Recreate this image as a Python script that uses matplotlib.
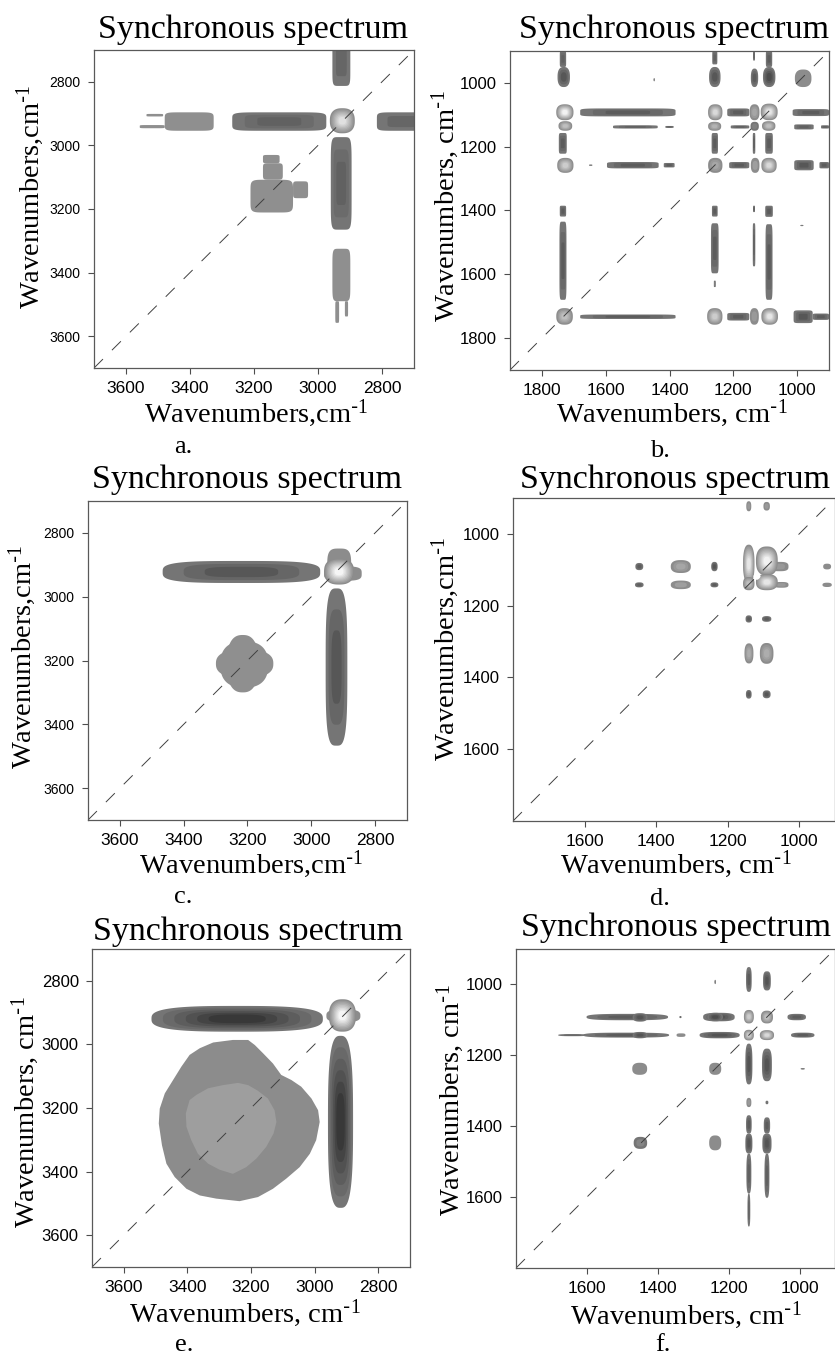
import numpy as np
import matplotlib
matplotlib.use('Agg')
import matplotlib.pyplot as plt

plt.rcParams['font.family'] = 'Liberation Serif'
plt.rcParams['mathtext.default'] = 'regular'

# every contour patch: x_lo, x_hi, y_lo, y_hi (cm-1), peak grey level 0-1
BARS_A = [(2899, 2955, 2660, 2813, .40), (2974, 3268, 2896, 2954, .38), (3326, 3479, 2896, 2954, .56),
          (2650, 2816, 2896, 2954, .40), (2895, 2960, 2974, 3265, .38), (2899, 2955, 3325, 3490, .56),
          (3484, 3536, 2901, 2909, .56), (3479, 3557, 2936, 2946, .56), (2934, 2946, 3490, 3558, .56),
          (2906, 2916, 3490, 3538, .56), (3078, 3211, 3108, 3211, .56), (3110, 3172, 3056, 3108, .56),
          (3031, 3078, 3113, 3166, .56), (3120, 3172, 3030, 3056, .56)]
SPOTS_A = [(2885, 2963, 2883, 2962, .88)]

BARS_B = [(1724, 1744, 900, 950, .38), (1250, 1266, 900, 942, .38), (1132, 1138, 900, 930, .38), (1078, 1098, 900, 950, .36),
          (1381, 1680, 1080, 1105, .36), (1150, 1219, 1080, 1105, .36), (900, 1014, 1082, 1104, .36),
          (1437, 1577, 1133, 1143, .38), (1387, 1413, 1135, 1141, .38), (1150, 1208, 1133, 1143, .38),
          (948, 1009, 1130, 1146, .38), (900, 925, 1133, 1143, .38),
          (1722, 1747, 1157, 1222, .36), (1248, 1268, 1157, 1222, .36), (1131, 1139, 1157, 1222, .36), (1076, 1100, 1157, 1222, .36),
          (1434, 1596, 1248, 1268, .36), (1384, 1418, 1251, 1265, .36), (1150, 1213, 1248, 1268, .36),
          (948, 1009, 1242, 1274, .34), (900, 930, 1248, 1268, .36), (1642, 1652, 1256, 1260, .5),
          (1724, 1744, 1385, 1419, .36), (1723, 1745, 1435, 1680, .36), (1249, 1267, 1385, 1419, .36),
          (1246, 1270, 1440, 1597, .36), (1255, 1261, 1620, 1640, .5), (1132, 1138, 1385, 1405, .36),
          (1131, 1139, 1440, 1575, .38), (1076, 1100, 1385, 1420, .36), (1077, 1099, 1443, 1680, .36),
          (1381, 1680, 1726, 1740, .36), (1150, 1219, 1721, 1745, .36), (951, 1011, 1713, 1753, .34), (900, 951, 1723, 1743, .36)]
SPOTS_B = [(1712, 1751, 950, 1013, .34), (1240, 1276, 950, 1013, .34), (1122, 1145, 955, 1013, .36), (1068, 1107, 950, 1013, .30),
           (955, 1007, 958, 1013, .55),
           (1701, 1755, 1067, 1117, .95), (1234, 1279, 1067, 1117, .85), (1118, 1149, 1067, 1117, .65), (1061, 1114, 1065, 1117, .9),
           (1705, 1748, 1120, 1150, .75), (1238, 1279, 1122, 1150, .7), (1120, 1146, 1122, 1150, .5), (1068, 1110, 1120, 1150, .75),
           (1701, 1752, 1235, 1282, .8), (1234, 1279, 1235, 1282, .65), (1118, 1145, 1235, 1282, .62), (1064, 1112, 1235, 1282, .85),
           (1703, 1755, 1706, 1758, .75), (1234, 1282, 1706, 1758, .8), (1120, 1148, 1706, 1758, .6), (1060, 1112, 1706, 1758, .9),
           (1446, 1450, 985, 995, .5), (980, 990, 1445, 1449, .5)]

BARS_C = [(2972, 3466, 2888, 2957, .34), (2887, 2955, 2974, 3467, .34), (2842, 2960, 2905, 2950, .55),
          (2875, 2950, 2849, 2960, .55)]
SPOTS_C = [(2866, 2960, 2880, 2962, .96), (3119, 3299, 3165, 3255, .56), (3165, 3265, 3120, 3300, .56),
           (3135, 3285, 3140, 3285, .56)]

BARS_D = [(1030, 1080, 1078, 1104, .6), (1030, 1070, 1134, 1150, .6)]
SPOTS_D = [(1134, 1148, 909, 937, .6), (1082, 1100, 911, 935, .6), (1436, 1458, 1081, 1101, .36), (1435, 1459, 1135, 1149, .38),
           (1303, 1359, 1073, 1109, .65), (1303, 1359, 1130, 1154, .62), (1228, 1246, 1078, 1104, .33), (1226, 1248, 1135, 1149, .36),
           (911, 933, 1083, 1099, .55), (909, 935, 1136, 1148, .55),
           (1125, 1157, 1030, 1137, .9), (1060, 1121, 1035, 1116, .95), (1060, 1121, 1112, 1157, .9), (1125, 1157, 1120, 1157, .75),
           (1132, 1150, 1227, 1247, .36), (1078, 1104, 1229, 1245, .36), (1128, 1153, 1305, 1361, .68), (1072, 1110, 1304, 1362, .68),
           (1133, 1149, 1435, 1459, .36), (1080, 1102, 1436, 1458, .34)]
HOLE_D = [(1108, 1128, 1108, 1128, 1.0)]

BARS_E = [(2974, 3513, 2879, 2960, .22), (2879, 2958, 2973, 3514, .22), (2856, 2963, 2890, 2930, .6)]
SPOTS_E = [(2870, 2955, 2858, 2960, .96)]
OUTLINE_E_X = [3361, 3319, 3257, 3209, 3188, 3162, 3131, 3105, 3073, 3042, 3010, 2989, 2984, 2995, 3015, 3047,
               3089, 3131, 3178, 3236, 3309, 3361, 3403, 3440, 3466, 3480, 3490, 3487, 3471, 3445, 3419, 3393]
OUTLINE_E_Y = [3012, 2994, 2986, 2986, 3002, 3028, 3060, 3096, 3112, 3133, 3170, 3207, 3244, 3301, 3344, 3386,
               3422, 3454, 3480, 3493, 3485, 3475, 3454, 3417, 3375, 3317, 3249, 3202, 3154, 3112, 3070, 3033]
INNER_E_X = [3241, 3209, 3178, 3147, 3126, 3120, 3129, 3152, 3183, 3215, 3257, 3299, 3335, 3367, 3388, 3403, 3405, 3393, 3372, 3335, 3288]
INNER_E_Y = [3121, 3128, 3146, 3170, 3207, 3244, 3280, 3322, 3359, 3386, 3407, 3394, 3375, 3344, 3301, 3259, 3217, 3175, 3159, 3138, 3128]

BARS_F = [(1135, 1151, 951, 1021, .36), (1081, 1103, 963, 1017, .33), (1371, 1601, 1083, 1101, .36), (1183, 1272, 1080, 1104, .33),
          (982, 1034, 1083, 1101, .36), (1368, 1610, 1136, 1150, .36), (1600, 1681, 1140, 1146, .4), (1322, 1347, 1138, 1148, .55),
          (1169, 1282, 1134, 1152, .33), (958, 1024, 1136, 1150, .36),
          (1133, 1153, 1167, 1282, .33), (1078, 1106, 1181, 1273, .33),
          (1135, 1151, 1369, 1421, .36), (1133, 1153, 1421, 1477, .33), (1136, 1150, 1477, 1590, .38), (1139, 1147, 1590, 1683, .4),
          (1083, 1101, 1375, 1421, .36), (1079, 1105, 1421, 1477, .33), (1085, 1099, 1477, 1602, .38)]
SPOTS_F = [(1429, 1471, 1081, 1105, .33), (1429, 1471, 1134, 1152, .33), (1216, 1260, 1080, 1104, .3),
           (1333, 1339, 1089, 1095, .4), (1129, 1157, 1072, 1110, .8), (1075, 1109, 1074, 1110, .75),
           (1129, 1157, 1128, 1158, .8), (1072, 1112, 1129, 1157, .85), (1430, 1472, 1221, 1255, .55), (1221, 1255, 1221, 1255, .55),
           (1136, 1150, 1320, 1346, .6), (1088, 1096, 1328, 1338, .45), (1430, 1468, 1430, 1464, .52), (1221, 1255, 1426, 1468, .55),
           (1236, 1240, 987, 999, .5), (985, 997, 1236, 1240, .5)]

panel_bars = [BARS_A, BARS_B, BARS_C, BARS_D, BARS_E, BARS_F]
panel_spots = [SPOTS_A, SPOTS_B, SPOTS_C, SPOTS_D, SPOTS_E, SPOTS_F]

limits = [(3700, 2700), (1900, 900), (3700, 2700), (1800, 900), (3700, 2700), (1800, 900)]
ticks = [[3600, 3400, 3200, 3000, 2800], [1800, 1600, 1400, 1200, 1000], [3600, 3400, 3200, 3000, 2800],
         [1600, 1400, 1200, 1000], [3600, 3400, 3200, 3000, 2800], [1600, 1400, 1200, 1000]]
names = ['a.', 'b.', 'c.', 'd.', 'e.', 'f.']
xlabels = ['Wavenumbers,cm', 'Wavenumbers, cm', 'Wavenumbers,cm', 'Wavenumbers, cm', 'Wavenumbers, cm', 'Wavenumbers, cm']
ylabels = ['Wavenumbers,cm', 'Wavenumbers, cm', 'Wavenumbers,cm', 'Wavenumbers,cm', 'Wavenumbers, cm', 'Wavenumbers, cm']

W, H = 835.0, 1358.0

# pixel layout of the panels: left, top, right, bottom
boxes = [(94, 50, 414, 368), (510, 51, 829, 370), (88, 501, 407, 820), (513, 498, 835, 821), (92, 949, 410, 1267), (516, 949, 835, 1268)]
title_xy = [(253, 30), (674, 30), (247, 480), (675, 480), (248, 932), (676, 928)]
xlab_xy = [(256, 413), (672, 413), (251, 864), (676, 864), (245, 1313), (686, 1315)]
ylab_xy = [(30, 197), (445, 206), (22, 657), (445, 649), (25, 1112), (450, 1100)]
name_xy = [(183, 447), (660, 451), (183, 897), (660, 899), (184, 1345), (663, 1345)]
ytick_size = [10, 12, 10, 12, 12, 12]
bar_power = [7, 7, 3.5, 3, 3, 3]


def blob(ax, patch, power):
    x_lo, x_hi, y_lo, y_hi, peak = patch
    t = np.linspace(0, 2*np.pi, 120)
    cx, cy = (x_lo+x_hi)/2., (y_lo+y_hi)/2.
    rx, ry = (x_hi-x_lo)/2., (y_hi-y_lo)/2.
    sx = np.sign(np.cos(t))*np.abs(np.cos(t))**(2./power)
    sy = np.sign(np.sin(t))*np.abs(np.sin(t))**(2./power)
    if 0.52 < peak < 0.6 or peak == 1.0:
        # flat single level patch
        ax.fill(cx+rx*sx, cy+ry*sy, color=str(peak), lw=0)
        return
    if peak > 0.55:
        outer = 0.55
    else:
        outer = 0.46
    n = int(max(1, round(abs(peak-outer)/0.05)))
    for i in range(n+1):
        s = 1. - 0.8*i/(n+1.)
        ax.fill(cx+rx*s*sx, cy+ry*s*sy, color=str(outer+(peak-outer)*i/float(n)), lw=0)


fig = plt.figure(figsize=(W/100., H/100.), dpi=100)

for j in range(6):
    l, t, r, b = boxes[j]
    ax = fig.add_axes([l/W, 1-b/H, (r-l)/W, (b-t)/H])

    if j == 4:
        ax.fill(OUTLINE_E_X, OUTLINE_E_Y, color='0.55', lw=0)
        ax.fill(INNER_E_X, INNER_E_Y, color='0.62', lw=0)
    for p in panel_bars[j]:
        blob(ax, p, bar_power[j])
    for p in panel_spots[j]:
        blob(ax, p, 2.5)
    if j == 3:
        for p in HOLE_D:
            blob(ax, p, 1.5)

    ax.plot(limits[j], limits[j], color='0.25', lw=0.7, dashes=(13, 13))

    ax.set_xlim(limits[j])
    ax.set_ylim(limits[j])
    ax.set_xticks(ticks[j])
    ax.set_yticks(ticks[j])
    ax.tick_params(length=4.5, width=0.8, color='0.3', pad=5)
    ax.tick_params(axis='x', labelsize=12.5)
    ax.tick_params(axis='y', labelsize=ytick_size[j])
    for lab in ax.get_xticklabels()+ax.get_yticklabels():
        lab.set_family('Liberation Sans')
    for s in ax.spines.values():
        s.set_color('0.35')
        s.set_linewidth(0.9)

    fig.text(title_xy[j][0]/W, 1-title_xy[j][1]/H, 'Synchronous spectrum', fontsize=24.5, ha='center', va='center')
    fig.text(xlab_xy[j][0]/W, 1-xlab_xy[j][1]/H, xlabels[j]+r'$^{\text{-}1}$', fontsize=20.5, ha='center', va='center')
    fig.text(ylab_xy[j][0]/W, 1-ylab_xy[j][1]/H, ylabels[j]+r'$^{\text{-}1}$', fontsize=20.5, ha='center', va='center', rotation=90)
    fig.text(name_xy[j][0]/W, 1-name_xy[j][1]/H, names[j], fontsize=19, ha='center', va='center')

fig.savefig('out.png', dpi=100)
